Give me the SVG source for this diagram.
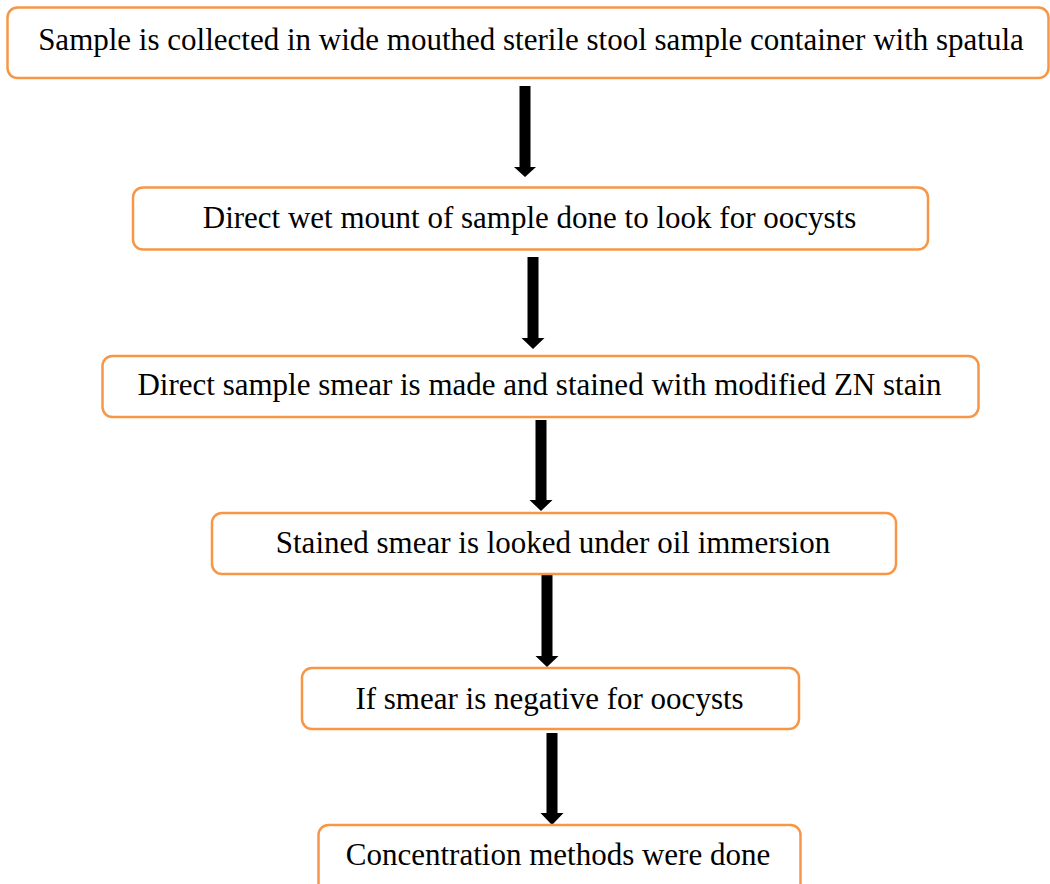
<svg xmlns="http://www.w3.org/2000/svg" width="1050" height="884" viewBox="0 0 1050 884">
<style>
.box{fill:#fff;stroke:#F79646;stroke-width:2.5}
.t{font-size:31px;fill:#000;text-anchor:middle}
.arr{fill:#000}
</style>
<rect width="1050" height="884" fill="#fff"/>
<g id="connectors">
<polygon class="arr" points="519.5,86 530.5,86 530.5,167 536,167 525,177 514,167 519.5,167"/>
<polygon class="arr" points="527.5,257 538.5,257 538.5,338 544.5,338 533,349 521.5,338 527.5,338"/>
<polygon class="arr" points="535.5,420 546.5,420 546.5,500 552.5,500 541,511 529.5,500 535.5,500"/>
<polygon class="arr" points="541.5,575 552.5,575 552.5,656 558.5,656 547,667 535.5,656 541.5,656"/>
<polygon class="arr" points="546.5,733 557.5,733 557.5,813 563.5,813 552,825 540.5,813 546.5,813"/>
</g>
<g font-family="Liberation Serif, serif">
<g id="n1"><rect class="box" x="7.5" y="7.5" width="1041" height="70.5" rx="10"/><text class="t" x="531" y="50">Sample is collected in wide mouthed sterile stool sample container with spatula</text></g>
<g id="n2"><rect class="box" x="133" y="187.5" width="795" height="62" rx="10"/><text class="t" x="529.5" y="228">Direct wet mount of sample done to look for oocysts</text></g>
<g id="n3"><rect class="box" x="102.5" y="356" width="876" height="61" rx="10"/><text class="t" x="539.5" y="395">Direct sample smear is made and stained with modified ZN stain</text></g>
<g id="n4"><rect class="box" x="212" y="513" width="684" height="61" rx="10"/><text class="t" x="553" y="553">Stained smear is looked under oil immersion</text></g>
<g id="n5"><rect class="box" x="302" y="668" width="497" height="61" rx="10"/><text class="t" x="549.5" y="709">If smear is negative for oocysts</text></g>
<g id="n6"><rect class="box" x="318.5" y="825" width="482" height="80" rx="10"/><text class="t" x="558" y="865">Concentration methods were done</text></g>
</g>
</svg>
